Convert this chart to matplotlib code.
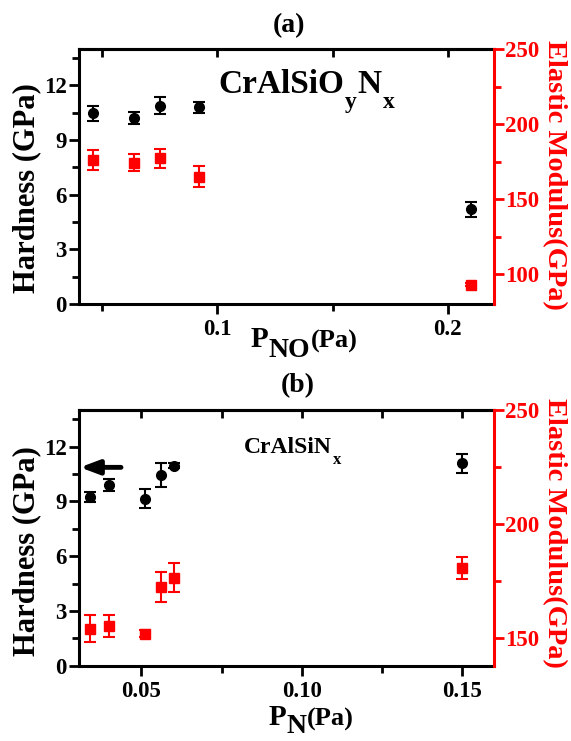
import matplotlib
matplotlib.use("Agg")
import matplotlib.pyplot as plt
from matplotlib.ticker import MultipleLocator, FixedLocator

# ---------------- data ----------------
# panel (a): CrAlSiOyNx vs P_NO
a_p = [0.046, 0.064, 0.075, 0.092, 0.210]
a_hard = [10.47, 10.20, 10.89, 10.80, 5.20]
a_hard_err = [0.40, 0.32, 0.47, 0.30, 0.40]
a_mod = [176.0, 174.2, 177.1, 164.9, 92.7]
a_mod_err = [6.8, 5.6, 6.3, 7.2, 1.0]

# panel (b): CrAlSiNx vs P_N
b_p = [0.034, 0.040, 0.051, 0.056, 0.060, 0.150]
b_hard = [9.25, 9.89, 9.14, 10.44, 10.95, 11.08]
b_hard_err = [0.27, 0.33, 0.53, 0.66, 0.15, 0.53]
b_mod = [154.1, 155.4, 152.0, 172.6, 176.6, 180.7]
b_mod_err = [5.9, 4.8, 1.5, 6.6, 6.3, 4.8]

a_xticks = [0.1, 0.2]
a_xticklabels = ["0.1", "0.2"]
b_xticks = [0.05, 0.10, 0.15]
b_xticklabels = ["0.05", "0.10", "0.15"]
hard_ticks = [0, 3, 6, 9, 12]
a_mod_ticks = [100, 150, 200, 250]
b_mod_ticks = [150, 200, 250]

RED = "#FF0000"
FONT = "Liberation Serif"
plt.rcParams["font.family"] = [FONT, "DejaVu Serif"]
plt.rcParams["font.weight"] = "bold"

W, H = 571, 741
fig = plt.figure(figsize=(W / 100, H / 100), dpi=100)
TICK_FS = 16.5


def fx(px):
    return px / W


def fy(py):
    return 1 - py / H


def make_panel(rect, xlim, xmaj, xmin_step, xlabels, x, hard, herr, mod, merr,
               mod_lim, mod_ticks):
    ax = fig.add_axes(rect)
    ax2 = ax.twinx()
    ax.set_xlim(*xlim)
    ax.set_ylim(0, 14)
    ax2.set_ylim(*mod_lim)

    ax.errorbar(x, hard, yerr=herr, fmt="o", color="black", ms=7,
                elinewidth=1.5, capsize=4, capthick=1.5, zorder=3)
    ax2.errorbar(x, mod, yerr=merr, fmt="s", color=RED, ms=6.5,
                 elinewidth=1.5, capsize=4, capthick=1.5, zorder=3)

    # x axis
    ax.xaxis.set_major_locator(FixedLocator(xmaj))
    ax.set_xticklabels(xlabels)
    ax.xaxis.set_minor_locator(MultipleLocator(xmin_step))
    ax.tick_params(axis="x", which="major", direction="out", length=7,
                   width=2, labelsize=TICK_FS, pad=4)
    ax.tick_params(axis="x", which="minor", direction="out", length=5, width=2)
    sec = ax.secondary_xaxis("top")
    sec.xaxis.set_major_locator(FixedLocator(xmaj))
    sec.xaxis.set_minor_locator(MultipleLocator(xmin_step))
    sec.tick_params(axis="x", which="both", direction="in", length=6,
                    width=2, labeltop=False)
    sec.spines["top"].set_linewidth(2.2)

    # left axis
    ax.yaxis.set_major_locator(FixedLocator(hard_ticks))
    ax.yaxis.set_minor_locator(MultipleLocator(1.5))
    ax.tick_params(axis="y", which="major", direction="out", length=7,
                   width=2, labelsize=TICK_FS, pad=2)
    ax.tick_params(axis="y", which="minor", direction="out", length=5, width=2)

    # right axis
    ax2.yaxis.set_major_locator(FixedLocator(mod_ticks))
    ax2.yaxis.set_minor_locator(MultipleLocator(25))
    ax2.tick_params(axis="y", which="major", direction="out", length=7,
                    width=2, labelsize=TICK_FS, pad=1, colors=RED)
    ax2.tick_params(axis="y", which="minor", direction="out", length=5,
                    width=2, colors=RED)

    for a in (ax, ax2):
        for lab in a.get_xticklabels() + a.get_yticklabels():
            lab.set_fontweight("bold")
    for s in ("left", "bottom", "top"):
        ax.spines[s].set_linewidth(2.2)
    ax.spines["right"].set_visible(False)
    ax2.spines["left"].set_visible(False)
    ax2.spines["bottom"].set_visible(False)
    ax2.spines["top"].set_visible(False)
    ax2.spines["right"].set_color(RED)
    ax2.spines["right"].set_linewidth(2.2)
    return ax, ax2


def chain(prev, s, size, dx=0, dy=0, color="black"):
    return fig.add_artist(matplotlib.text.Annotation(
        s, xy=(1, 0), xycoords=prev, xytext=(dx, dy),
        textcoords="offset points", ha="left", va="bottom",
        fontsize=size, fontweight="bold", color=color, family=FONT))


# ---------------- panel (a) ----------------
rect_a = [fx(79), fy(304), fx(494) - fx(79), fy(49) - fy(304)]
axa, axa2 = make_panel(rect_a, (0.04, 0.22), a_xticks, 0.05, a_xticklabels,
                       a_p, a_hard, a_hard_err, a_mod, a_mod_err,
                       (80, 250), a_mod_ticks)

fig.text(fx(289), fy(32), "(a)", ha="center", va="baseline", fontsize=20,
         fontweight="bold")
t = axa.text(0.335, 0.827, "CrAlSiO", transform=axa.transAxes, ha="left",
             va="baseline", fontsize=24, fontweight="bold")
t = chain(t, "y", 17, dx=1, dy=-9)
t = chain(t, "N", 24, dx=0, dy=9)
chain(t, "x", 17, dx=1, dy=-9)

fig.text(fx(27), fy(188), "Hardness (GPa)", rotation=90, ha="center",
         va="center", fontsize=22, fontweight="bold")
fig.text(fx(554), fy(175), "Elastic Modulus(GPa)", rotation=270, ha="center",
         va="center", fontsize=20.5, fontweight="bold", color=RED)
p = fig.text(fx(251), fy(347), "P", ha="left", va="baseline", fontsize=21,
             fontweight="bold")
p = chain(p, "NO", 20, dx=0, dy=-7)
chain(p, "(Pa)", 19, dx=0, dy=7)

# ---------------- panel (b) ----------------
rect_b = [fx(79), fy(665.7), fx(494) - fx(79), fy(410) - fy(665.7)]
axb, axb2 = make_panel(rect_b, (0.0305, 0.160), b_xticks, 0.025,
                       b_xticklabels, b_p, b_hard, b_hard_err, b_mod,
                       b_mod_err, (138, 250), b_mod_ticks)

fig.text(fx(298), fy(392), "(b)", ha="center", va="baseline", fontsize=20,
         fontweight="bold")
t = axb.text(0.398, 0.832, "CrAlSiN", transform=axb.transAxes, ha="left",
             va="baseline", fontsize=17, fontweight="bold")
chain(t, "x", 12, dx=1, dy=-7)
axb.annotate("", xy=(0.0308, 10.86), xytext=(0.0436, 10.86),
             arrowprops=dict(arrowstyle="-|>,head_length=0.8,head_width=0.3",
                             lw=3.5, color="black", mutation_scale=14,
                             shrinkA=0, shrinkB=0))

fig.text(fx(27), fy(551), "Hardness (GPa)", rotation=90, ha="center",
         va="center", fontsize=22, fontweight="bold")
fig.text(fx(554), fy(533), "Elastic Modulus(GPa)", rotation=270,
         ha="center", va="center", fontsize=20.5, fontweight="bold",
         color=RED)
p = fig.text(fx(269), fy(725), "P", ha="left", va="baseline", fontsize=21,
             fontweight="bold")
p = chain(p, "N", 20, dx=0, dy=-6)
chain(p, "(Pa)", 19, dx=0, dy=6)

fig.savefig("out.png", dpi=100)
